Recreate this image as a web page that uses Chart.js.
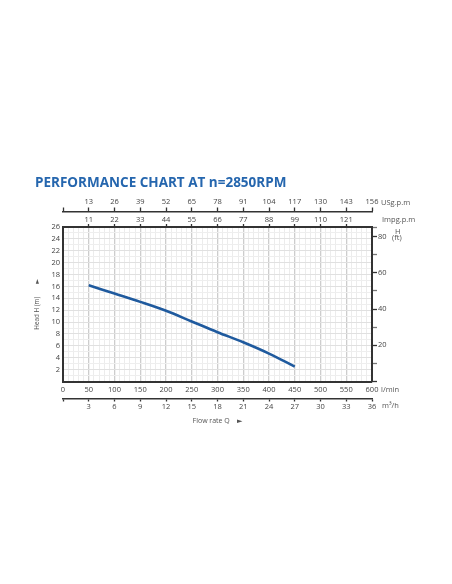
<!DOCTYPE html>
<html>
<head>
<meta charset="utf-8">
<script src="https://cdn.jsdelivr.net/npm/chart.js@4.4.1/dist/chart.umd.min.js"></script>
<style>
  html, body { margin: 0; padding: 0; background: #fff; }
  canvas { display: block; }
</style>
</head>
<body>
<canvas id="perf" width="452" height="584"></canvas>
<script>
// pump curve
const flowLpm = [50, 100, 150, 200, 250, 300, 350, 400, 450];
const headM = [16.2, 14.8, 13.4, 11.9, 10.1, 8.3, 6.6, 4.7, 2.5];

// secondary flow scales, one label per 50 l/min step
const usgpmLabels = [13, 26, 39, 52, 65, 78, 91, 104, 117, 130, 143, 156];
const impgpmLabels = [11, 22, 33, 44, 55, 66, 77, 88, 99, 110, 121];
const m3hLabels = [3, 6, 9, 12, 15, 18, 21, 24, 27, 30, 33, 36];
const headFtLabels = [20, 40, 60, 80];

const maxLpm = 600;
const maxHeadM = 26;
const maxHeadFt = maxHeadM * 3.2808;

const inkColor = '#444';
const frameColor = '#333';
const fontFamily = '"Open Sans", "DejaVu Sans", sans-serif';
const tickFont = { family: fontFamily, size: 7.5 };

function stepLabel(list, v) {
    const i = Math.round(v / 50) - 1;
    return (v % 50 === 0 && i >= 0 && i < list.length) ? String(list[i]) : '';
}

// unit names next to the axes
const unitLabels = {
    id: 'unitLabels',
    afterDraw(chart) {
        const ctx = chart.ctx;
        const s = chart.scales;
        const r = chart.chartArea.right;
        ctx.save();
        ctx.font = '7.5px ' + fontFamily;
        ctx.fillStyle = '#555';
        ctx.textBaseline = 'middle';
        ctx.textAlign = 'left';
        ctx.fillText('USg.p.m', r + 9, s.usg.bottom - 8.5);
        ctx.fillText('Impg.p.m', r + 10, s.impg.bottom - 7);
        ctx.fillText('l/min', r + 9, s.x.top + 8);
        ctx.fillText('m\u00B3/h', r + 10, s.m3h.top + 7);
        ctx.fillText('H', r + 23, chart.chartArea.top + 5);
        ctx.fillText('(ft)', r + 20, chart.chartArea.top + 11);
        ctx.restore();
    }
};

new Chart(document.getElementById('perf'), {
    type: 'line',
    data: {
        datasets: [{
            data: flowLpm.map((q, i) => ({ x: q, y: headM[i] })),
            borderColor: '#1f5a9e',
            borderWidth: 2.6,
            pointRadius: 0,
            cubicInterpolationMode: 'monotone',
            xAxisID: 'x',
            yAxisID: 'y'
        }]
    },
    options: {
        responsive: false,
        animation: false,
        layout: { padding: { left: 35, right: 40, top: 0, bottom: 158.8 } },
        plugins: {
            legend: { display: false },
            tooltip: { enabled: false },
            title: {
                display: true,
                text: 'PERFORMANCE CHART AT n=2850RPM',
                align: 'start',
                color: '#2566ae',
                font: { family: fontFamily, size: 13.5, weight: 'bold' },
                padding: { top: 174.9, bottom: 2.4 }
            }
        },
        scales: {
            x: {
                type: 'linear', position: 'bottom', weight: 0,
                min: 0, max: maxLpm,
                afterFit: s => { s.height = 17; },
                border: { color: frameColor, width: 2 },
                grid: {
                    drawTicks: false,
                    color: c => (c.tick && c.tick.value % 50 === 0) ? '#cdcdcd' : '#ececec',
                    lineWidth: c => (c.tick && c.tick.value % 50 === 0) ? 1.3 : 1
                },
                ticks: {
                    stepSize: 10, autoSkip: false, maxRotation: 0,
                    padding: 4, color: inkColor, font: tickFont,
                    callback: v => v % 50 === 0 ? String(v) : ''
                }
            },
            m3h: {
                type: 'linear', position: 'bottom', weight: 1,
                min: 0, max: maxLpm,
                afterFit: s => { s.height = 26.7; },
                border: { color: frameColor, width: 1.5 },
                grid: { drawOnChartArea: false, tickLength: 3, color: frameColor, tickWidth: 1.3 },
                ticks: {
                    stepSize: 50, autoSkip: false, maxRotation: 0,
                    padding: 1, color: inkColor, font: tickFont,
                    callback: v => stepLabel(m3hLabels, v)
                },
                title: {
                    display: true, text: 'Flow rate Q    \u25BA',
                    color: '#555', font: { family: fontFamily, size: 7 },
                    padding: { top: 0, bottom: 0 }
                }
            },
            impg: {
                type: 'linear', position: 'top', weight: 0,
                min: 0, max: maxLpm,
                afterFit: s => { s.height = 15.5; },
                border: { color: frameColor, width: 2 },
                grid: {
                    drawOnChartArea: false, tickLength: 3, tickWidth: 1.3,
                    tickColor: c => (c.tick && (c.tick.value === 0 || c.tick.value === maxLpm)) ? 'rgba(0,0,0,0)' : frameColor
                },
                ticks: {
                    stepSize: 50, autoSkip: false, maxRotation: 0,
                    padding: 0, color: inkColor, font: tickFont,
                    callback: v => stepLabel(impgpmLabels, v)
                }
            },
            usg: {
                type: 'linear', position: 'top', weight: 1,
                min: 0, max: maxLpm,
                afterFit: s => { s.height = 18; },
                border: { color: frameColor, width: 1.5 },
                grid: { drawOnChartArea: false, tickLength: 4, tickWidth: 1.3, color: frameColor },
                ticks: {
                    stepSize: 50, autoSkip: false, maxRotation: 0,
                    padding: 1, color: inkColor, font: tickFont,
                    callback: v => stepLabel(usgpmLabels, v)
                }
            },
            y: {
                type: 'linear', position: 'left',
                min: 0, max: maxHeadM,
                afterFit: s => { s.width = 28; },
                border: { color: frameColor, width: 2 },
                grid: {
                    drawTicks: false,
                    color: c => (c.tick && c.tick.value % 2 === 0) ? '#e0e0e0' : '#eeeeee'
                },
                ticks: {
                    stepSize: 1, autoSkip: false, padding: 3,
                    color: inkColor, font: tickFont,
                    callback: v => (v > 0 && v % 2 === 0) ? String(v) : ''
                },
                title: {
                    display: true, text: 'Head H (m)        \u25BA',
                    color: '#555', font: { family: fontFamily, size: 6.3 },
                    padding: { top: -1.5, bottom: 0 }
                }
            },
            y2: {
                type: 'linear', position: 'right',
                min: 0, max: maxHeadFt,
                afterFit: s => { s.width = 40; },
                border: { color: frameColor, width: 2 },
                grid: {
                    drawOnChartArea: false, tickLength: 5, tickWidth: 1.3,
                    tickColor: c => (c.tick && c.tick.value % 20 === 0) ? frameColor : '#777'
                },
                ticks: {
                    stepSize: 10, autoSkip: false, padding: 1,
                    color: inkColor, font: tickFont,
                    callback: v => headFtLabels.includes(v) ? String(v) : ''
                }
            }
        }
    },
    plugins: [unitLabels]
});
</script>
</body>
</html>
